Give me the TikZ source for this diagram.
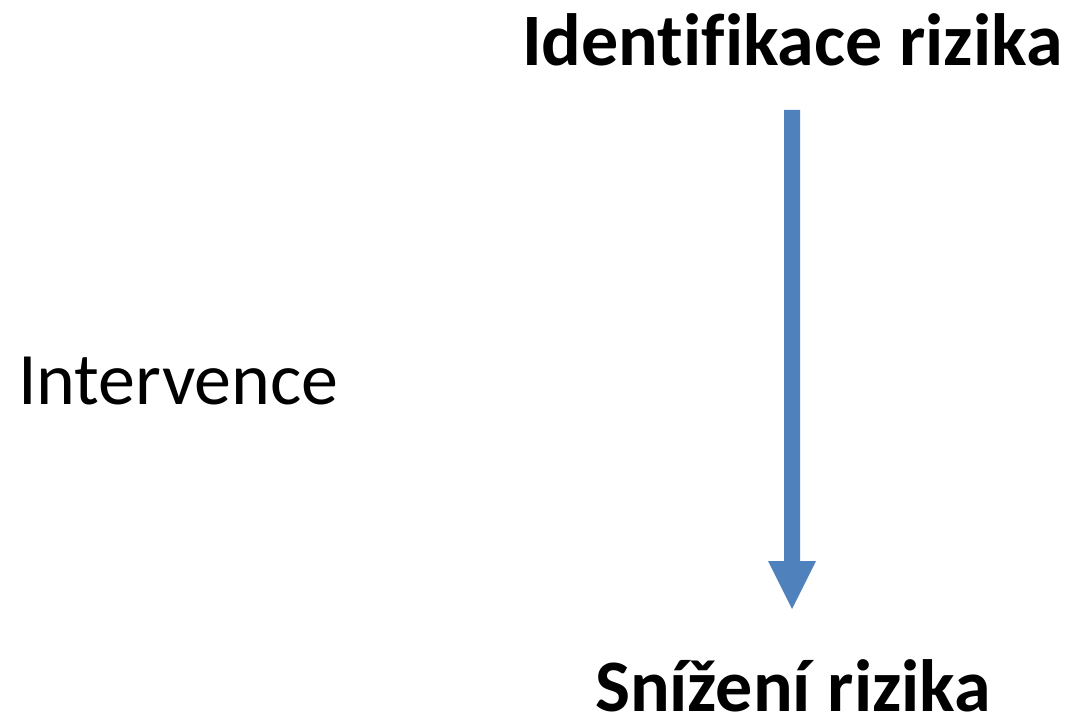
\documentclass[tikz,border=0pt]{standalone}
\usepackage{fontspec}
\setmainfont[Ligatures=NoCommon]{Carlito}
\definecolor{arrowblue}{HTML}{4F81BD}
\begin{document}
\begin{tikzpicture}[x=0.75pt,y=-0.75pt,
  lbl/.style={anchor=base west,inner sep=0pt,outer sep=0pt},
  bigb/.style={lbl,font=\fontsize{55.5}{60}\selectfont\bfseries},
  reg/.style={lbl,font=\fontsize{55.5}{60}\selectfont}]
\useasboundingbox (0,0) rectangle (1071,724);
\node[bigb] (top) at (522,65) {Identifikace rizika};
\node[reg] (int) at (18,404) {Intervence};
\node[bigb] (bot) at (595,711) {Snížení rizika};
\fill[arrowblue] (784,110) -- (800,110) -- (800,561) -- (816,561) -- (792,609) -- (768,561) -- (784,561) -- cycle;
\end{tikzpicture}
\end{document}
